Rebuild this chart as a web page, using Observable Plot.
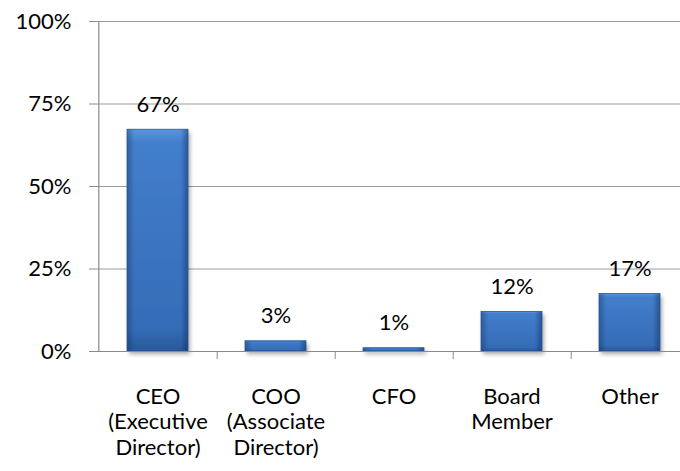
<!DOCTYPE html>
<html>
<head>
<meta charset="utf-8">
<script src="https://cdn.jsdelivr.net/npm/d3@7"></script>
<script src="https://cdn.jsdelivr.net/npm/@observablehq/plot@0.6"></script>
<style>
  html, body { margin: 0; padding: 0; background: #fff; overflow: hidden; }
  #chart svg { display: block; }
</style>
</head>
<body>
<div id="chart"></div>
<script>
// ---- data ----
const categories = ["CEO", "COO", "CFO", "Board", "Other"];
const tickLabels = ["CEO\n(Executive\nDirector)", "COO\n(Associate\nDirector)", "CFO", "Board\nMember", "Other"];
const values = [0.672, 0.031, 0.010, 0.120, 0.174];
const valueLabels = ["67%", "3%", "1%", "12%", "17%"];
const yTicks = [0, 0.25, 0.5, 0.75, 1];

const data = categories.map((c, i) => ({cat: c, value: values[i], label: valueLabels[i]}));
const labelOf = new Map(categories.map((c, i) => [c, tickLabels[i]]));

const W = 680, H = 471;
const xRange = [97, 689];
const step = (xRange[1] - xRange[0]) / categories.length;
const axisColor = "#8a8a8a";
const gridColor = "#9a9a9a";
const font = "Lato, 'Open Sans', sans-serif";

const chart = Plot.plot({
  width: W,
  height: H,
  marginLeft: 97,
  marginRight: 0,
  marginTop: 21,
  marginBottom: 120,
  style: {fontFamily: font, fontSize: "22px", color: "#000", background: "#fff"},
  x: {domain: categories, range: xRange, paddingInner: 0.485, paddingOuter: 0.2425, axis: null, label: null},
  y: {domain: [0, 1], axis: null, label: null},
  marks: [
    Plot.ruleY(yTicks.slice(1), {stroke: gridColor, strokeWidth: 1}),
    Plot.axisY({ticks: yTicks, tickSize: 8, tickPadding: 18, tickFormat: d3.format(".0%"), stroke: axisColor, fontSize: 22, label: null}),
    // bars
    Plot.barY(data, {x: "cat", y: "value", fill: "url(#barV)"}),
    Plot.barY(data, {x: "cat", y: "value", fill: "url(#barH)"}),
    Plot.barY(data, {x: "cat", y: "value", fill: "none", stroke: "#2a5898", strokeWidth: 0.8}),
    // axes lines
    Plot.ruleY([0], {stroke: axisColor, strokeWidth: 1.2}),
    Plot.ruleX([categories[0]], {x: d => d, dx: -step / 2, y1: 0, y2: 1, stroke: axisColor, strokeWidth: 1.2}),
    // boundary ticks on x axis
    Plot.axisX({ticks: categories, tickSize: 8, dx: step / 2, tickFormat: () => "", stroke: axisColor, label: null}),
    // category labels
    Plot.axisX({ticks: categories, tickSize: 0, tickPadding: 34, tickFormat: d => labelOf.get(d), lineHeight: 1.16, fontSize: 22, fill: "#000", label: null}),
    // value labels
    Plot.text(data, {x: "cat", y: "value", text: "label", dy: -25, fontSize: 22, fill: "#000"})
  ]
});

// gradient / shadow definitions
const ns = "http://www.w3.org/2000/svg";
const defs = document.createElementNS(ns, "defs");
defs.innerHTML = `
  <linearGradient id="barV" x1="0" y1="0" x2="0" y2="1">
    <stop offset="0" stop-color="#5b95dc"/>
    <stop offset="0.06" stop-color="#427ecb"/>
    <stop offset="0.9" stop-color="#356cb7"/>
    <stop offset="1" stop-color="#28579a"/>
  </linearGradient>
  <linearGradient id="barH" x1="0" y1="0" x2="1" y2="0">
    <stop offset="0" stop-color="#0c2550" stop-opacity="0.35"/>
    <stop offset="0.12" stop-color="#0c2550" stop-opacity="0"/>
    <stop offset="0.88" stop-color="#0c2550" stop-opacity="0"/>
    <stop offset="1" stop-color="#0c2550" stop-opacity="0.45"/>
  </linearGradient>
  <filter id="shadow" x="-20%" y="-20%" width="150%" height="150%">
    <feDropShadow dx="2" dy="3" stdDeviation="2" flood-color="#000" flood-opacity="0.35"/>
  </filter>`;
chart.insertBefore(defs, chart.firstChild);
// drop shadow on base bars
const barGroups = chart.querySelectorAll("g[aria-label='bar']");
if (barGroups.length) barGroups[0].setAttribute("filter", "url(#shadow)");

document.getElementById("chart").appendChild(chart);
</script>
</body>
</html>
